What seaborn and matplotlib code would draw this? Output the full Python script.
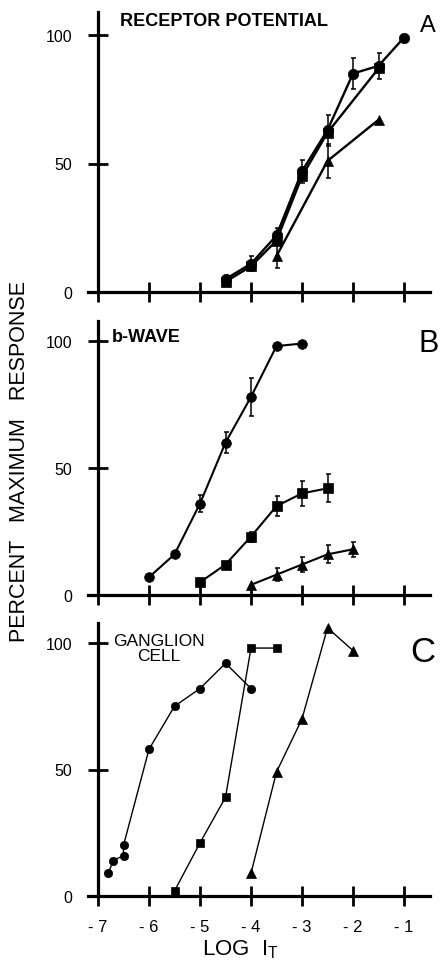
import matplotlib
matplotlib.use("Agg")
import matplotlib.pyplot as plt
import numpy as np
import pandas as pd
import seaborn as sns

# ---- data: percent of maximum response vs log test intensity ----
# A: receptor potential
a_circ_x = [-4.5, -4.0, -3.5, -3.0, -2.5, -2.0, -1.5, -1.0]
a_circ_y = [5, 11, 22, 47, 63, 85, 88, 99]
a_circ_err = [0, 3, 3, 4.5, 6, 6, 5, 0]
a_sq_x = [-4.5, -4.0, -3.5, -3.0, -2.5, -1.5]
a_sq_y = [4, 10, 20, 45, 62, 87]
a_tri_x = [-3.5, -2.5, -1.5]
a_tri_y = [14, 51, 67]
a_tri_err = [4.5, 6.5, 0]

# B: b-wave
b_circ_x = [-6.0, -5.5, -5.0, -4.5, -4.0, -3.5, -3.0]
b_circ_y = [7, 16, 36, 60, 78, 98, 99]
b_circ_err = [0, 0, 3.5, 4, 7.5, 0, 0]
b_sq_x = [-5.0, -4.5, -4.0, -3.5, -3.0, -2.5]
b_sq_y = [5, 12, 23, 35, 40, 42]
b_sq_err = [0, 0, 2, 4, 5, 5.5]
b_tri_x = [-4.0, -3.5, -3.0, -2.5, -2.0]
b_tri_y = [4, 8, 12, 16, 18]
b_tri_err = [0, 2.5, 3, 3.5, 3]

# C: ganglion cell
c_circ_x = [-6.8, -6.7, -6.5, -6.5, -6.0, -5.5, -5.0, -4.5, -4.0]
c_circ_y = [9, 14, 16, 20, 58, 75, 82, 92, 82]
c_sq_x = [-5.5, -5.0, -4.5, -4.0, -3.5]
c_sq_y = [2, 21, 39, 98, 98]
c_tri_x = [-4.0, -3.5, -3.0, -2.5, -2.0]
c_tri_y = [9, 49, 70, 106, 97]

x_ticks = [-7, -6, -5, -4, -3, -2, -1]
x_tick_labels = ["- 7", "- 6", "- 5", "- 4", "- 3", "- 2", "- 1"]
y_ticks = [0, 50, 100]
y_tick_labels = ["0", "50", "100"]

sns.set_style("ticks")
plt.rcParams["font.family"] = ["Liberation Sans", "DejaVu Sans"]
for key in ("text.color", "axes.labelcolor", "xtick.color", "ytick.color",
            "axes.edgecolor"):
    plt.rcParams[key] = "black"

W, H = 448, 962
fig = plt.figure(figsize=(W / 100, H / 100), dpi=100)


def frac(x, y):
    return x / W, 1 - y / H


def long_frame(series):
    frames = []
    for name, xs, ys in series:
        frames.append(pd.DataFrame({"x": xs, "y": ys, "series": name}))
    return pd.concat(frames, ignore_index=True)


MARKERS = {"circle": "o", "square": "s", "triangle": "^"}


def panel(rect, ytop, series, errs, lw, msizes, show_x):
    ax = fig.add_axes(rect)
    df = long_frame(series)
    for name, size in msizes.items():
        sub = df[df["series"] == name]
        if sub.empty:
            continue
        sns.lineplot(data=sub, x="x", y="y", style="series",
                     markers={name: MARKERS[name]}, dashes=False,
                     color="black", estimator=None, legend=False,
                     linewidth=lw, markersize=size,
                     markeredgecolor="black", markeredgewidth=0.5,
                     clip_on=False, zorder=3, ax=ax)
    for xs, ys, es in errs:
        xs, ys, es = np.asarray(xs), np.asarray(ys), np.asarray(es, float)
        m = es > 0
        ax.errorbar(xs[m], ys[m], yerr=es[m], fmt="none", ecolor="black",
                    elinewidth=1.1, capsize=1.8, capthick=1.1,
                    clip_on=False, zorder=4)
    ax.set_xlim(-7.2, -0.5)
    ax.set_ylim(0, ytop)
    ax.spines["left"].set_position(("data", -7))
    for s in ("top", "right"):
        ax.spines[s].set_visible(False)
    for s in ("left", "bottom"):
        ax.spines[s].set_linewidth(2.3)
        ax.spines[s].set_color("black")
    ax.set_xticks(x_ticks)
    ax.set_yticks(y_ticks)
    ax.set_yticklabels(y_tick_labels, fontsize=11.5)
    if show_x:
        ax.set_xticklabels(x_tick_labels, fontsize=12)
    else:
        ax.set_xticklabels([])
    ax.tick_params(direction="inout", length=15, width=2.0, color="black",
                   labelcolor="black", bottom=True, left=True)
    ax.tick_params(axis="y", pad=11)
    ax.tick_params(axis="x", pad=9)
    ax.set_xlabel("")
    ax.set_ylabel("")
    ax.patch.set_alpha(0)
    return ax


def rect_for(y0_px, ytop, px_per_unit):
    left = 87.8
    width = 6.7 * 51.0
    height = ytop * px_per_unit
    return [left / W, 1 - y0_px / H, width / W, height / H]


axA = panel(rect_for(293, 109, 2.57), 109,
            [("circle", a_circ_x, a_circ_y),
             ("square", a_sq_x, a_sq_y),
             ("triangle", a_tri_x, a_tri_y)],
            [(a_circ_x, a_circ_y, a_circ_err),
             (a_tri_x, a_tri_y, a_tri_err)],
            1.7, {"circle": 7.5, "square": 6.5, "triangle": 7.5}, False)

axB = panel(rect_for(596, 108, 2.54), 108,
            [("circle", b_circ_x, b_circ_y),
             ("square", b_sq_x, b_sq_y),
             ("triangle", b_tri_x, b_tri_y)],
            [(b_circ_x, b_circ_y, b_circ_err),
             (b_sq_x, b_sq_y, b_sq_err),
             (b_tri_x, b_tri_y, b_tri_err)],
            1.5, {"circle": 7, "square": 6.5, "triangle": 7}, False)

axC = panel(rect_for(897, 108, 2.53), 108,
            [("circle", c_circ_x, c_circ_y),
             ("square", c_sq_x, c_sq_y),
             ("triangle", c_tri_x, c_tri_y)],
            [],
            1.0, {"circle": 6, "square": 5.5, "triangle": 6.5}, True)

axC.set_xlabel(r"LOG  I$_\mathregular{T}$", fontsize=16)
axC.xaxis.set_label_coords((240 - 87.8) / (6.7 * 51.0), -0.15)

# panel captions and letters
fig.text(*frac(120, 22), "RECEPTOR POTENTIAL", fontsize=13, fontweight="bold",
         ha="left", va="center")
fig.text(*frac(112, 338), "b-WAVE", fontsize=13, fontweight="bold",
         ha="left", va="center")
fig.text(*frac(159, 649), "GANGLION\nCELL", fontsize=12.5, ha="center",
         va="center", linespacing=1.0)
fig.text(*frac(428, 26), "A", fontsize=17, ha="center", va="center")
fig.text(*frac(429, 344), "B", fontsize=22, ha="center", va="center")
fig.text(*frac(423, 652), "C", fontsize=25, ha="center", va="center")

fig.text(*frac(20, 461), "PERCENT   MAXIMUM   RESPONSE", fontsize=15.5,
         rotation=90, ha="center", va="center")

fig.savefig("out.png", dpi=100)
